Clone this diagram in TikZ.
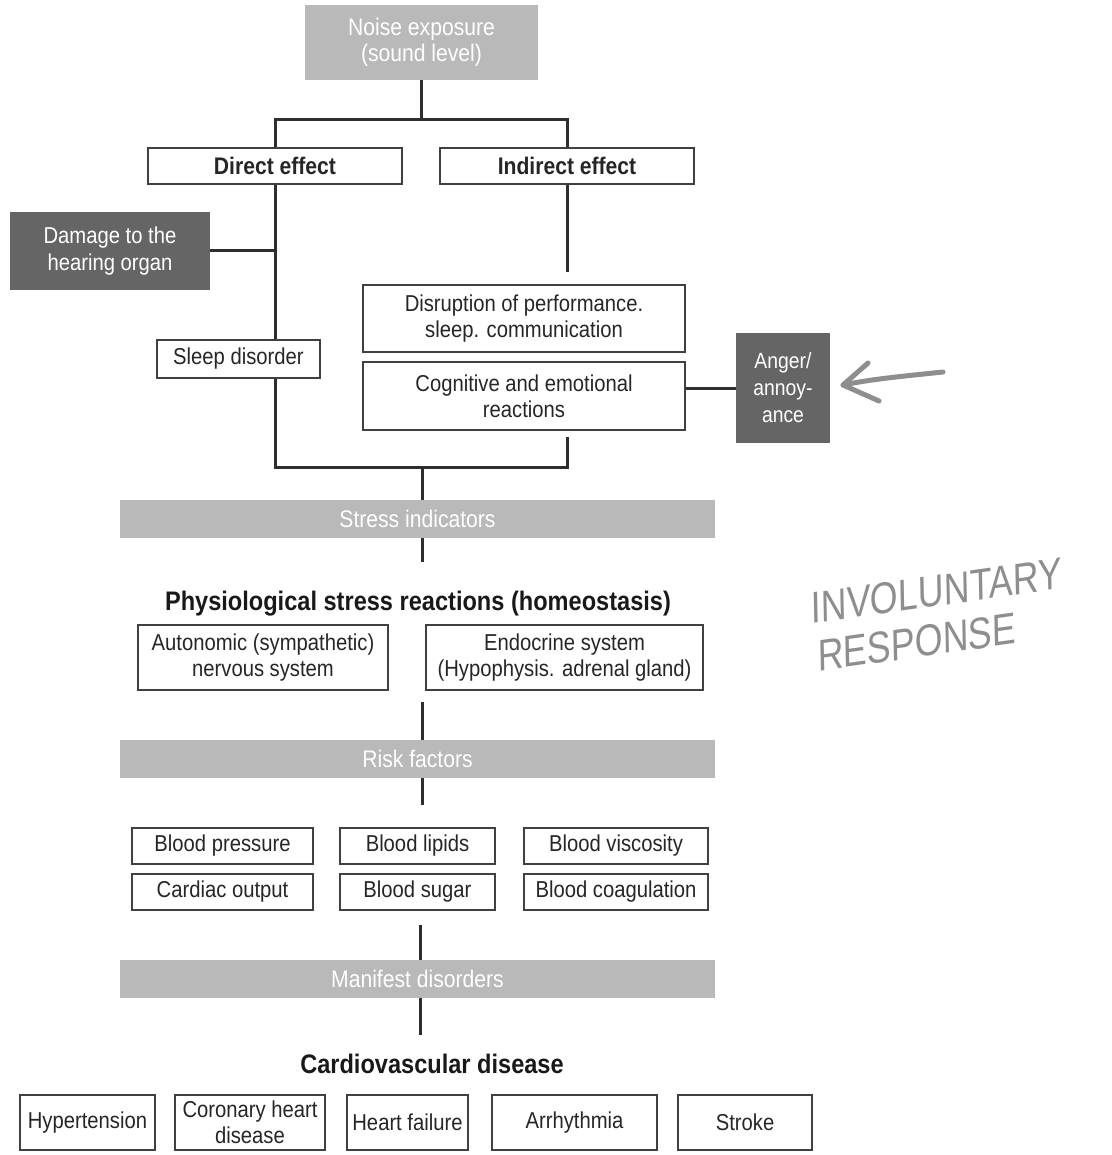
\documentclass[tikz,border=0pt]{standalone}
\usepackage{fontspec}
\setmainfont{Liberation Sans}[FakeStretch=0.88]
\newfontfamily\handfont{Liberation Sans}[FakeStretch=0.82,FakeSlant=0.12]
\pgfdeclarelayer{bg}
\pgfsetlayers{bg,main}
\definecolor{lightfill}{HTML}{B9B9B9}
\definecolor{darkfill}{HTML}{656565}
\definecolor{handgray}{HTML}{8E8E8E}
\tikzset{
  sz/.style 2 args={minimum width=#1pt, minimum height=#2pt},
  plainbox/.style={draw=black!75, line width=1.1pt, fill=white, inner sep=0pt, align=center,
    font=\fontsize{23}{26}\selectfont, text=black!85},
  boldbox/.style={plainbox, font=\fontsize{24}{27}\selectfont\bfseries},
  lightbox/.style={fill=lightfill, inner sep=0pt, align=center, text=white,
    font=\fontsize{24}{26}\selectfont},
  darkbox/.style={fill=darkfill, inner sep=0pt, align=center, text=white,
    font=\fontsize{23}{27}\selectfont},
  heading/.style={inner sep=0pt, font=\fontsize{26.8}{30}\selectfont\bfseries, text=black!90},
  conn/.style={line width=3pt, draw=black!82},
  hand/.style={text=handgray, font=\handfont\fontsize{44}{48}\selectfont, inner sep=0pt, align=left}
}
\begin{document}
\begin{tikzpicture}[x=1pt,y=-1pt]
\useasboundingbox (0,0) rectangle (1111,1155);

% top
\node[lightbox, sz={233}{75}] (noise) at (421.5,42.5) {Noise exposure\\(sound level)};
\node[boldbox, sz={254}{36}] (direct) at (275,166) {Direct effect};
\node[boldbox, sz={254}{36}] (indirect) at (567,166) {Indirect effect};
\node[darkbox, sz={200}{78}] (damage) at (110,251) {Damage to the\\hearing organ};
\node[plainbox, sz={163}{38}] (sleep) at (238.5,359) {Sleep disorder};
\node[plainbox, sz={322}{67}] (disrupt) at (524,318.5) {Disruption of performance.\\sleep. communication};
\node[plainbox, sz={322}{68}] (cog) at (524,396) {Cognitive and emotional\\reactions};
\node[darkbox, sz={94}{110}, font=\fontsize{22}{27}\selectfont] (anger) at (783,388) {Anger/\\annoy-\\ance};

% bars
\node[lightbox, sz={595}{38}] (stress) at (417.5,519) {Stress indicators};
\node[heading] (phys) at (418,604) {Physiological stress reactions (homeostasis)};
\node[plainbox, sz={250}{65}] (auto) at (263,657.5) {Autonomic (sympathetic)\\nervous system};
\node[plainbox, sz={277}{65}] (endo) at (564.5,657.5) {Endocrine system\\(Hypophysis. adrenal gland)};
\node[lightbox, sz={595}{38}] (risk) at (417.5,759) {Risk factors};

\node[plainbox, sz={181}{36}] (bp) at (222.5,846) {Blood pressure};
\node[plainbox, sz={155}{36}] (bl) at (417.5,846) {Blood lipids};
\node[plainbox, sz={184}{36}] (bv) at (616,846) {Blood viscosity};
\node[plainbox, sz={181}{36}] (co) at (222.5,892) {Cardiac output};
\node[plainbox, sz={155}{36}] (bs) at (417.5,892) {Blood sugar};
\node[plainbox, sz={184}{36}] (bc) at (616,892) {Blood coagulation};

\node[lightbox, sz={595}{38}] (manifest) at (417.5,979) {Manifest disorders};
\node[heading] (cvd) at (432,1064) {Cardiovascular disease};

\node[plainbox, sz={135}{55}] (hyp) at (87.5,1122.5) {Hypertension};
\node[plainbox, sz={150}{55}] (chd) at (250,1122.5) {Coronary heart\\disease};
\node[plainbox, sz={121}{55}] (hf) at (407.5,1122.5) {Heart failure};
\node[plainbox, sz={165}{55}] (arr) at (574.5,1122.5) {Arrhythmia};
\node[plainbox, sz={134}{55}] (stroke) at (745,1122.5) {Stroke};

% coordinates for connector ends
\coordinate (split) at (noise.south |- 0,120);
\coordinate (indstub) at (567,272);
\coordinate (bl1) at (275,467);
\coordinate (br1) at (567,467);
\coordinate (cogstub) at (567,437);
\coordinate (bm) at (422,467);
\coordinate (s1) at (422,562);
\coordinate (s2a) at (422,702);
\coordinate (s2b) at (422,805);
\coordinate (s3a) at (420,925);
\coordinate (s3b) at (420,1035);

\begin{pgfonlayer}{bg}
\draw[conn] (noise.south) -- (split);
\draw[conn] (direct.north) |- (split) -| (indirect.north);
\draw[conn] (damage.east) -- (damage.east -| direct.south);
\draw[conn] (direct.south) -- (bl1) -- (br1) -- (cogstub);
\draw[conn] (indirect.south) -- (indstub);
\draw[conn] (anger.west) -- (anger.west -| cog.east);
\draw[conn] (bm) -- (stress.north -| bm) -- (s1);
\draw[conn] (s2a) -- (risk.north -| s2a) -- (s2b);
\draw[conn] (s3a) -- (manifest.north -| s3a) -- (s3b);
\end{pgfonlayer}

% handwritten annotations
\draw[handgray, line width=5pt, line cap=round, line join=round]
  (943,372) .. controls (905,376) and (872,379) .. (843,385);
\draw[handgray, line width=5pt, line cap=round, line join=round]
  (868,363) -- (843,385) -- (879,401);
\node[hand, rotate=8] (note) at (938,615) {INVOLUNTARY\\RESPONSE};
\end{tikzpicture}
\end{document}
